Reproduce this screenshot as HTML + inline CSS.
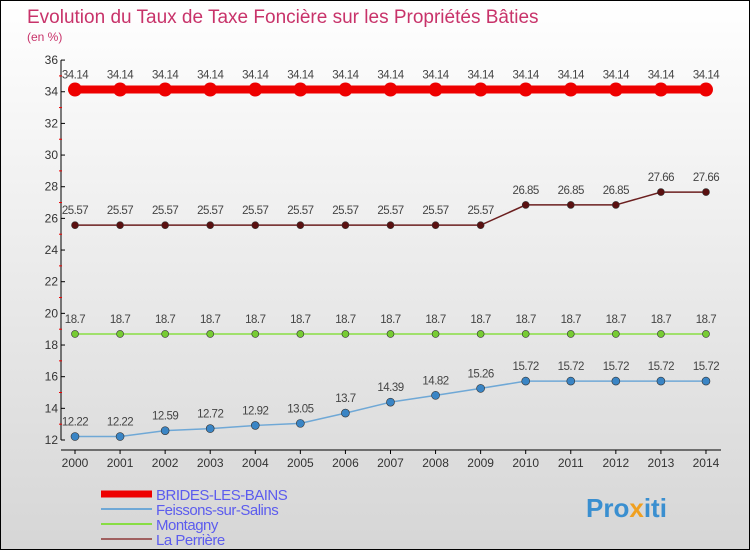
<!DOCTYPE html>
<html><head><meta charset="utf-8"><style>
body{margin:0}
#c{width:748px;height:548px;border:1px solid #000;background:linear-gradient(#fff,#d6d6d6);position:relative;font-family:"Liberation Sans",sans-serif;overflow:hidden}
</style></head><body>
<div id="c">
<svg id="s" width="748" height="548" xmlns="http://www.w3.org/2000/svg">
<text x="26" y="22" font-size="19" fill="#c8336a">Evolution du Taux de Taxe Foncière sur les Propriétés Bâties</text>
<text x="26" y="40" font-size="12" fill="#c8336a">(en %)</text>
<g id="g"></g>
<text x="585" y="516" font-size="26" font-weight="bold" fill="#3a8fd0">Pro<tspan fill="#f0a020">x</tspan>iti</text>
</svg>
</div>
<script>
const years=[2000,2001,2002,2003,2004,2005,2006,2007,2008,2009,2010,2011,2012,2013,2014];
const brides=[34.14,34.14,34.14,34.14,34.14,34.14,34.14,34.14,34.14,34.14,34.14,34.14,34.14,34.14,34.14];
const feissons=[12.22,12.22,12.59,12.72,12.92,13.05,13.7,14.39,14.82,15.26,15.72,15.72,15.72,15.72,15.72];
const montagny=[18.7,18.7,18.7,18.7,18.7,18.7,18.7,18.7,18.7,18.7,18.7,18.7,18.7,18.7,18.7];
const perriere=[25.57,25.57,25.57,25.57,25.57,25.57,25.57,25.57,25.57,25.57,26.85,26.85,26.85,27.66,27.66];
const yTicks=[12,14,16,18,20,22,24,26,28,30,32,34,36];
const names=["BRIDES-LES-BAINS","Feissons-sur-Salins","Montagny","La Perrière"];
const NS="http://www.w3.org/2000/svg",g=document.getElementById('g');
const X=i=>74+i*45.07, Y=v=>439-(v-12)*15.83;
function el(t,a){const e=document.createElementNS(NS,t);for(const k in a)e.setAttribute(k,a[k]);g.appendChild(e);return e;}
let e=el('line',{x1:60,y1:Y(36),x2:60,y2:Y(12),stroke:'#000'});

e=el('line',{x1:60,y1:449,x2:720,y2:449,stroke:'#000'});

yTicks.forEach(v=>{
 el('line',{x1:60,y1:Y(v),x2:64,y2:Y(v),stroke:'#000'});
 if(v<36)el('line',{x1:58,y1:Y(v+1),x2:61,y2:Y(v+1),stroke:'#e00'});
 const t=el('text',{x:57,y:Y(v)+4,'font-size':12,fill:'#333','text-anchor':'end'});t.textContent=v;
 
});
years.forEach((y,i)=>{
 el('line',{x1:X(i),y1:449,x2:X(i),y2:453,stroke:'#000'});
 const t=el('text',{x:X(i),y:466,'font-size':12,fill:'#333','text-anchor':'middle'});t.textContent=y;
 
});
const series=[[brides,'#ee0000',8,7,'#ee0000'],[perriere,'#6b1f1f',1.5,3.5,'#5a1010'],[montagny,'#88dd44',1.5,3.5,'#77cc33'],[feissons,'#6fa8d6',1.5,4,'#3a85c5']];
series.forEach(([d,c,w,r,fc],si)=>{
 const p=el('polyline',{points:d.map((v,i)=>X(i)+','+Y(v)).join(' '),fill:'none',stroke:c,'stroke-width':w});
 
 d.forEach((v,i)=>{
  const m=el('circle',{cx:X(i),cy:Y(v),r:r,fill:fc,stroke:si==0?'none':'#333','stroke-width':0.6});
  
  const t=el('text',{x:X(i),y:Y(v)-11,'font-size':11.5,fill:'#444','text-anchor':'middle','letter-spacing':'-0.5'});t.textContent=v;
  
 });
});
const lc=['#ee0000','#6fa8d6','#88dd44','#a06060'],lw=[7,2,2,2];
names.forEach((n,i)=>{
 const y=493+i*15;
 el('line',{x1:100,y1:y,x2:151,y2:y,stroke:lc[i],'stroke-width':lw[i]});
 const t=el('text',{x:155,y:y+6,'font-size':15,fill:'#5c5cee','letter-spacing':'-0.5'});t.textContent=n;
 
});
</script>
</body></html>
